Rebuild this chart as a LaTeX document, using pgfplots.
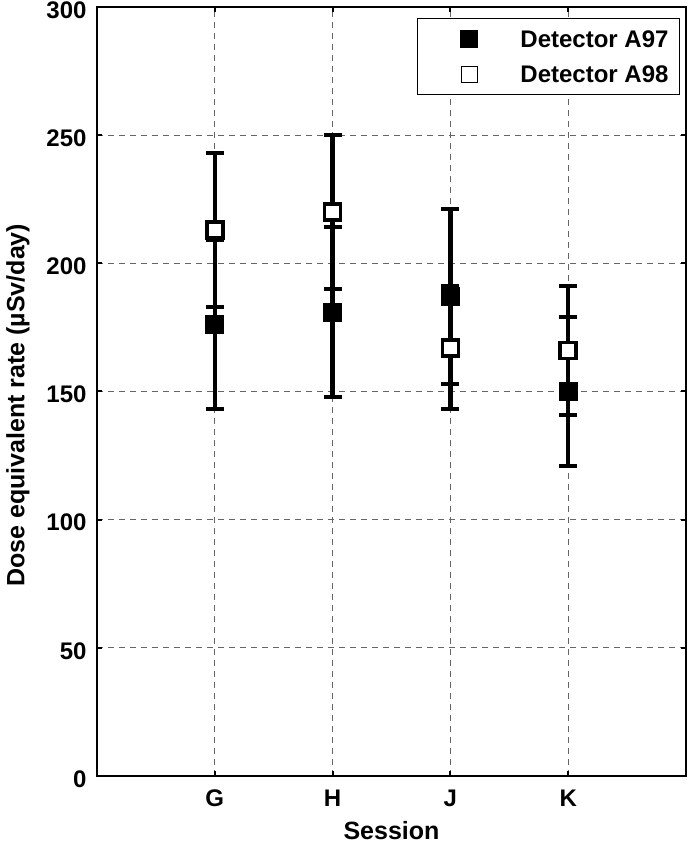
\documentclass[border=0pt]{standalone}
\usepackage{fontspec}
\setmainfont{Liberation Sans}
\usepackage{pgfplots}
\pgfplotsset{compat=1.18}
\usetikzlibrary{calc}
\begin{document}
\begin{tikzpicture}
\begin{axis}[
  name=ax,
  scale only axis, width=589bp, height=769bp,
  xmin=0, xmax=5, ymin=0, ymax=300,
  xtick={1,2,3,4}, xticklabels={G,H,J,K},
  ytick={0,50,100,150,200,250,300},
  tick pos=both, tick align=inside, major tick length=5bp,
  /pgf/number format/assume math mode=true,
  ticklabel style={font=\fontsize{24bp}{26bp}\selectfont\bfseries},
  xticklabel style={yshift=-10bp},
  yticklabel style={xshift=-7bp, yshift=-3bp},
  label style={font=\fontsize{25bp}{27bp}\selectfont\bfseries},
  xlabel={Session}, ylabel={Dose equivalent rate (µSv/day)},
  xlabel shift=8bp,
  ylabel shift=10bp,
  ylabel style={at={(ticklabel cs:0.482)}},
  axis line style={line width=2.5bp},
  every tick/.style={line width=2bp, black},
  grid=major,
  major grid style={dashed, gray!80!black, line width=0.8bp, dash pattern=on 6bp off 5bp},
  legend style={at={(rel axis cs:0.9898,0.9857)}, anchor=north east,
    draw=black, line width=1bp, fill=white,
    font=\fontsize{24bp}{26bp}\selectfont\bfseries,
    inner xsep=11bp, inner ysep=12bp, row sep=17.5bp, column sep=0bp,
    nodes={inner sep=0bp, text height=17bp, text depth=0bp}},
  legend cell align=left,
]
\addplot[only marks, black, mark=square*, mark size=8bp,
  mark options={line width=3bp, fill=black},
  legend image code/.code={\path (0bp,0bp) (91bp,0bp);
    \fill[black] (32bp,-8.5bp) rectangle (49bp,8.5bp);},
  error bars/.cd, y dir=both, y explicit,
  error bar style={line width=4.5bp, black},
  error mark options={rotate=90, mark size=9bp, line width=4bp, black},
  ] coordinates {
  (1,176) +- (0,33)
  (2,181) +- (0,33)
  (3,187) +- (0,34)
  (4,150) +- (0,29)
};
\addlegendentry{Detector A97}
\addplot[only marks, black, mark=square*, mark size=8bp,
  mark options={line width=3.5bp, fill=white},
  legend image code/.code={\path (0bp,0bp) (91bp,0bp);
    \draw[black, fill=white, line width=0.8bp] (32.5bp,-8bp) rectangle (48.5bp,8bp);},
  error bars/.cd, y dir=both, y explicit,
  error bar style={line width=4.5bp, black},
  error mark options={rotate=90, mark size=9bp, line width=4bp, black},
  ] coordinates {
  (1,213) +- (0,30)
  (2,220) +- (0,30)
  (3,167) +- (0,24)
  (4,166) +- (0,25)
};
\addlegendentry{Detector A98}
\end{axis}
\pgfresetboundingbox
\path[use as bounding box] ($(ax.south west)+(-97bp,-71bp)$) rectangle ($(ax.north east)+(10bp,7bp)$);
\end{tikzpicture}
\end{document}
